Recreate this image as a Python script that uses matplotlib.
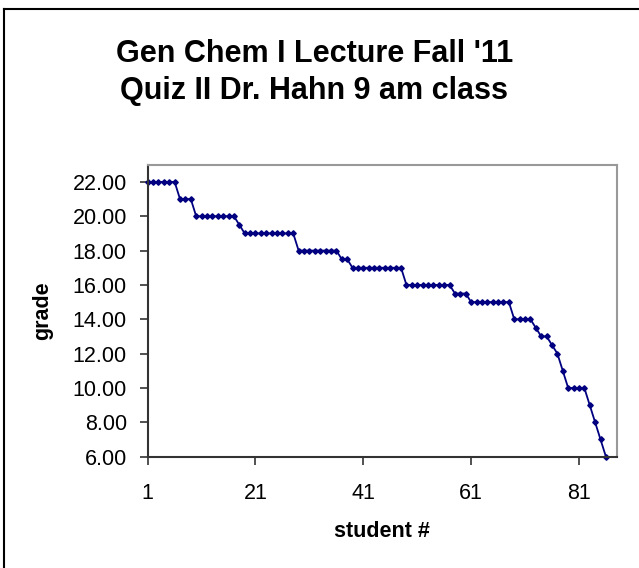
import numpy as np
from matplotlib import pyplot as plt
from matplotlib.lines import Line2D

plt.rcParams['font.family'] = ['Liberation Sans', 'DejaVu Sans']

# quiz grades, sorted high to low, one per student
grades = [22, 22, 22, 22, 22, 22,
          21, 21, 21,
          20, 20, 20, 20, 20, 20, 20, 20,
          19.5,
          19, 19, 19, 19, 19, 19, 19, 19, 19, 19,
          18, 18, 18, 18, 18, 18, 18, 18,
          17.5, 17.5,
          17, 17, 17, 17, 17, 17, 17, 17, 17, 17,
          16, 16, 16, 16, 16, 16, 16, 16, 16,
          15.5, 15.5, 15.5,
          15, 15, 15, 15, 15, 15, 15, 15,
          14, 14, 14, 14,
          13.5,
          13, 13,
          12.5, 12, 11,
          10, 10, 10, 10,
          9, 8, 7, 6]
students = np.arange(1, len(grades) + 1)
x_ticks = [1, 21, 41, 61, 81]
y_ticks = [6, 8, 10, 12, 14, 16, 18, 20, 22]

fig = plt.figure(figsize=(6.39, 5.68), dpi=100)
ax = fig.add_axes([0.2311, 0.196, 0.734, 0.514])

ax.plot(students, grades, color='#000080', lw=1.3, marker='D', markersize=2.8,
        clip_on=False)

ax.set_xlim(1, 88)
ax.set_ylim(6, 23)
ax.set_xticks(x_ticks)
ax.set_yticks(y_ticks)
ax.set_yticklabels(['%.2f' % v for v in y_ticks])
ax.tick_params(axis='both', labelsize=15.5, length=6, width=1.2, color='#333333')
ax.tick_params(axis='x', pad=13)
ax.tick_params(axis='y', pad=9)

for s in ['left', 'bottom']:
    ax.spines[s].set_color('#333333')
    ax.spines[s].set_linewidth(1.5)
for s in ['top', 'right']:
    ax.spines[s].set_color('#999999')
    ax.spines[s].set_linewidth(1.5)

ax.set_xlabel('student #', fontsize=15.5, fontweight='bold', labelpad=12)
ax.set_ylabel('grade', fontsize=15.5, fontweight='bold', labelpad=14)

fig.text(0.492, 0.891, "Gen Chem I Lecture Fall '11", ha='center', va='baseline',
         fontsize=22, fontweight='bold')
fig.text(0.492, 0.826, "Quiz II Dr. Hahn 9 am class", ha='center', va='baseline',
         fontsize=22, fontweight='bold')

# chart area frame (right and bottom edges fall outside the picture)
fig.add_artist(Line2D([3.5 / 639, 1.0], [1 - 9 / 568, 1 - 9 / 568],
                      transform=fig.transFigure, color='black', lw=1.5))
fig.add_artist(Line2D([3.5 / 639, 3.5 / 639], [0.0, 1 - 9 / 568],
                      transform=fig.transFigure, color='black', lw=1.5))

plt.savefig('out.png', dpi=100)
